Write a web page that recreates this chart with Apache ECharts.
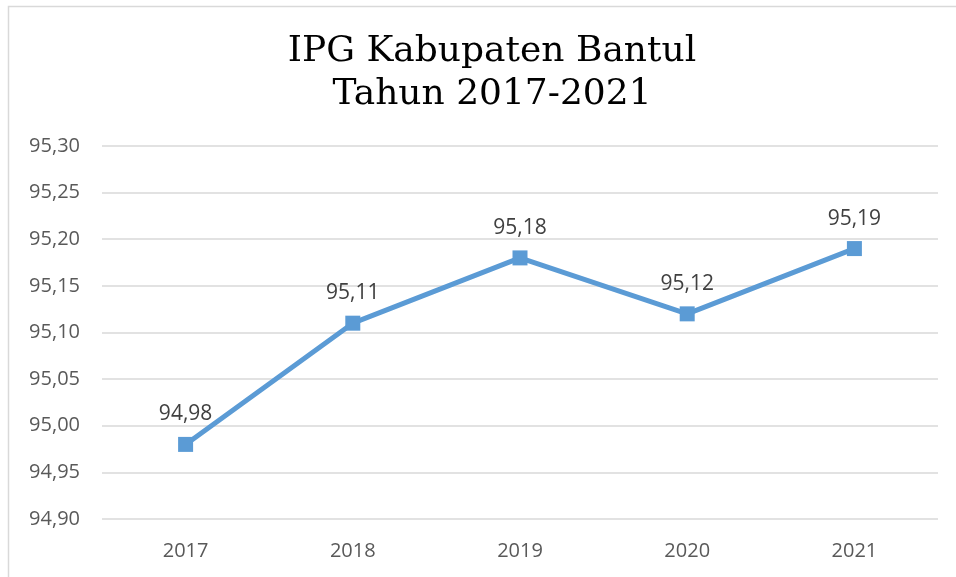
<!DOCTYPE html>
<html>
<head>
<meta charset="utf-8">
<script src="https://cdn.jsdelivr.net/npm/echarts@6/dist/echarts.min.js"></script>
<style>
  html, body { margin: 0; padding: 0; background: #fff; }
  #chart { width: 956px; height: 577px; }
</style>
</head>
<body>
<div id="chart"></div>
<script>
// IPG (Indeks Pembangunan Gender) Kabupaten Bantul, 2017-2021
const years = ['2017', '2018', '2019', '2020', '2021'];
const ipgValues = [94.98, 95.11, 95.18, 95.12, 95.19];
const titleLines = ['IPG Kabupaten Bantul', 'Tahun 2017-2021'];

const fmt = v => v.toFixed(2).replace('.', ',');

const chart = echarts.init(document.getElementById('chart'));
chart.setOption({
  backgroundColor: '#ffffff',
  animation: false,
  graphic: [{
    type: 'rect',
    shape: { x: 8.5, y: 6.5, width: 1000, height: 1000 },
    style: { fill: 'none', stroke: '#d9d9d9', lineWidth: 1.5 },
    silent: true
  }],
  title: {
    text: titleLines.join('\n'),
    left: 487,
    textAlign: 'center',
    top: 25,
    textStyle: {
      fontFamily: 'DejaVu Serif',
      fontWeight: 'normal',
      fontSize: 36,
      lineHeight: 43,
      color: '#000000'
    }
  },
  grid: { left: 102, right: 18, top: 146, bottom: 58 },
  xAxis: {
    type: 'category',
    data: years,
    boundaryGap: true,
    axisLine: { show: false },
    axisTick: { show: false },
    axisLabel: {
      margin: 22,
      fontFamily: 'Open Sans',
      fontSize: 20,
      color: '#595959'
    }
  },
  yAxis: {
    type: 'value',
    min: 94.90,
    max: 95.30,
    interval: 0.05,
    axisLine: { show: false },
    axisTick: { show: false },
    splitLine: { lineStyle: { color: '#d9d9d9', width: 1.5 } },
    axisLabel: {
      margin: 22,
      fontFamily: 'Open Sans',
      fontSize: 20,
      color: '#595959',
      formatter: fmt
    }
  },
  series: [{
    type: 'line',
    data: ipgValues,
    symbol: 'rect',
    symbolSize: 15,
    itemStyle: { color: '#5b9bd5' },
    lineStyle: { color: '#5b9bd5', width: 5 },
    label: {
      show: true,
      position: 'top',
      distance: 12,
      fontFamily: 'Open Sans',
      fontSize: 21,
      color: '#404040',
      formatter: p => fmt(p.value)
    }
  }]
});
</script>
</body>
</html>
